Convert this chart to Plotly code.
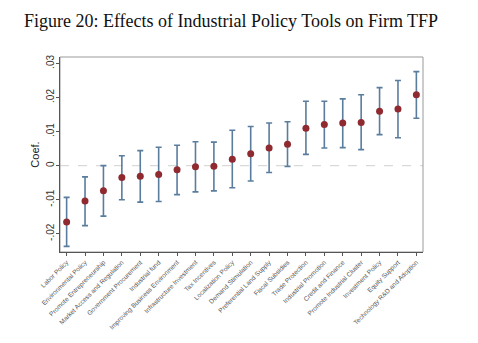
import plotly.graph_objects as go

# Policy tools, ordered by estimated effect
tools = [
    "Labor Policy", "Environmental Policy", "Promote Entrepreneurship",
    "Market Access and Regulation", "Government Procurement", "Industrial fund",
    "Improving Business Environment", "Infrastructure Investment", "Tax Incentives",
    "Localization Policy", "Demand Stimulation", "Preferential Land Supply",
    "Fiscal Subsidies", "Trade Protection", "Industrial Promotion",
    "Credit and Finance", "Promote Industrial Cluster", "Investment Policy",
    "Equity Support", "Technology R&D and Adoption",
]
coef = [-0.0165, -0.0104, -0.0074, -0.0035, -0.0031, -0.0026, -0.0012, -0.0003,
        -0.0002, 0.0019, 0.0035, 0.0052, 0.0063, 0.0110, 0.0121, 0.0125,
        0.0127, 0.0160, 0.0166, 0.0208]
ci_low = [-0.0237, -0.0176, -0.0148, -0.0100, -0.0107, -0.0105, -0.0085, -0.0077,
          -0.0074, -0.0065, -0.0045, -0.0020, -0.0002, 0.0033, 0.0052, 0.0053,
          0.0047, 0.0091, 0.0082, 0.0139]
ci_high = [-0.0093, -0.0033, 0.0000, 0.0029, 0.0044, 0.0054, 0.0060, 0.0070,
           0.0069, 0.0104, 0.0115, 0.0125, 0.0129, 0.0189, 0.0189, 0.0196,
           0.0208, 0.0229, 0.0250, 0.0276]
y_ticks = [-0.02, -0.01, 0, 0.01, 0.02, 0.03]
y_tick_text = ["-.02", "-.01", "0", ".01", ".02", ".03"]

idx = list(range(len(tools)))
err_plus = [h - c for h, c in zip(ci_high, coef)]
err_minus = [c - l for c, l in zip(coef, ci_low)]

fig = go.Figure()
fig.add_hline(y=0, line=dict(color="#d9d9d9", width=1.2, dash="dash"), layer="below")
fig.add_trace(go.Scatter(
    x=idx, y=coef, mode="markers",
    marker=dict(color="#8e2a30", size=7),
    error_y=dict(type="data", symmetric=False, array=err_plus, arrayminus=err_minus,
                 color="#5a7d9e", thickness=1.6, width=3),
    showlegend=False,
))

fig.update_layout(
    width=478, height=343,
    margin=dict(l=60, r=55, t=57, b=86),
    paper_bgcolor="white", plot_bgcolor="white",
    title=dict(text="Figure 20: Effects of Industrial Policy Tools on Firm TFP",
               x=0.05, xanchor="left", y=0.94, yanchor="middle",
               font=dict(family="Liberation Serif", size=18, color="#111")),
    font=dict(family="Liberation Sans", color="#333"),
    xaxis=dict(
        range=[-0.36, 19.36], tickmode="array", tickvals=idx, ticktext=tools,
        tickangle=-45, tickfont=dict(size=6.5, color="#555"),
        ticks="outside", ticklen=3, tickcolor="#555",
        showline=True, linecolor="#555", linewidth=1, mirror=False,
        showgrid=False, zeroline=False,
    ),
    yaxis=dict(
        range=[-0.02534, 0.03189], tickmode="array", tickvals=y_ticks,
        ticktext=y_tick_text, tickangle=-90, tickfont=dict(size=10, color="#333"),
        ticks="outside", ticklen=3, tickcolor="#555", ticklabelstandoff=-2,
        showline=True, linecolor="#555", linewidth=1, mirror=False,
        showgrid=False, zeroline=False,
        title=dict(text="Coef.", font=dict(size=11, color="#222"), standoff=3),
    ),
)
# frame on top and right edges of the plot region
fig.add_shape(type="rect", xref="paper", yref="paper", x0=0, x1=1, y0=0, y1=1,
              line=dict(color="#999", width=1), layer="below")

fig.write_html("out.html")
